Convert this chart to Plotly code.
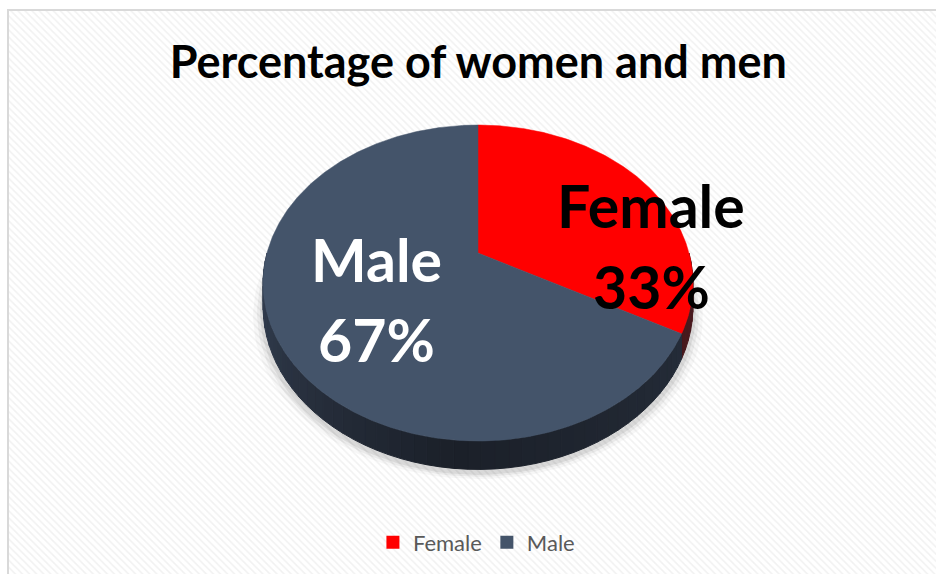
import math
import plotly.graph_objects as go

# ---- data ----
categories = ["Female", "Male"]
values = [33, 67]
colors_top = ["#FF0000", "#44546A"]
title_text = "Percentage of women and men"

# ---- geometry / style constants (pixel space) ----
W, H = 936, 574
CX, CY = 478, 253          # projected centre of the pie top
A, B, P = 211, 152.3, 0.19  # horizontal / vertical radii, perspective factor
DEPTH = 23                  # thickness of the pie

def proj(theta_deg, r=1.0, dz=0.0):
    t = math.radians(theta_deg)
    u, v = r * math.sin(t), r * math.cos(t)
    w = 1 + P * v
    return CX + A * u / w, CY - B * v / w + dz / w

def lerp_col(c1, c2, f):
    f = max(0.0, min(1.0, f))
    a = [int(c1[i:i + 2], 16) for i in (1, 3, 5)]
    b = [int(c2[i:i + 2], 16) for i in (1, 3, 5)]
    return "#%02x%02x%02x" % tuple(round(a[k] + (b[k] - a[k]) * f) for k in range(3))

fig = go.Figure()

# hatched background
fig.add_trace(go.Scatter(
    x=[9, 936, 936, 9, 9], y=[11, 11, 574, 574, 11], mode="lines", fill="toself",
    line=dict(width=0), fillcolor="white",
    fillpattern=dict(shape="\\", fgcolor="#e3e3e3", bgcolor="white", size=5, solidity=0.3),
    hoverinfo="skip", showlegend=False))

# soft shadow under the pie
for k, alpha in [(10, 0.03), (6, 0.05), (3, 0.07)]:
    xs, ys = [], []
    for i in range(0, 361, 3):
        x, y = proj(i, 1.0, DEPTH + 3)
        xs.append(CX + (x - CX) * (1 + k / 215)); ys.append(y + k * 0.6)
    fig.add_trace(go.Scatter(x=xs, y=ys, mode="lines", fill="toself",
                             line=dict(width=0), fillcolor=f"rgba(0,0,0,{alpha})",
                             hoverinfo="skip", showlegend=False))

# slices angles
total = sum(values)
starts, ends = [], []
acc = 0.0
for v in values:
    starts.append(acc / total * 360)
    acc += v
    ends.append(acc / total * 360)

# sides (drawn first, tops cover hidden parts)
side_dark = {"Female": ("#3a1418", "#4a1a1e", "#4a1a1e"),
             "Male": ("#1b2029", "#262e3b", "#323d4f")}
for cat, s, e in zip(categories, starts, ends):
    a0, a1 = max(s, 90), min(e, 270)
    if a1 <= a0:
        continue
    n = max(2, int((a1 - a0) / 3))
    dark, right, left = side_dark[cat]
    for j in range(n):
        t0 = a0 + (a1 - a0) * j / n
        t1 = a0 + (a1 - a0) * (j + 1) / n
        tm = (t0 + t1) / 2
        col = lerp_col(dark, left, (tm - 185) / 75) if tm > 185 else lerp_col(dark, right, (185 - tm) / 80)
        pts_top = [proj(t0 + (t1 - t0) * q / 4) for q in range(5)]
        pts_bot = [proj(t1 - (t1 - t0) * q / 4, 1.0, DEPTH) for q in range(5)]
        pts = pts_top + pts_bot + [pts_top[0]]
        fig.add_trace(go.Scatter(x=[p[0] for p in pts], y=[p[1] for p in pts], mode="lines",
                                 fill="toself", fillcolor=col, line=dict(color=col, width=1),
                                 hoverinfo="skip", showlegend=False))

# top surfaces
for cat, s, e, col in zip(categories, starts, ends, colors_top):
    n = max(2, int((e - s) / 0.5))
    pts = [(CX, CY)] + [proj(s + (e - s) * j / n) for j in range(n + 1)] + [(CX, CY)]
    fig.add_trace(go.Scatter(x=[p[0] for p in pts], y=[p[1] for p in pts], mode="lines",
                             fill="toself", fillcolor=col, line=dict(color=col, width=0.5),
                             name=cat, hoverinfo="name", showlegend=False))

# legend entries
for cat, col in zip(categories, colors_top):
    fig.add_trace(go.Scatter(x=[None], y=[None], mode="markers", name=cat,
                             marker=dict(symbol="square", size=13, color=col)))

# data labels
label_pos = {"Female": (651, 205, 286, "black"), "Male": (376, 259, 339, "white")}
pct = [round(v / total * 100) for v in values]
for cat, p in zip(categories, pct):
    x, y1, y2, fc = label_pos[cat]
    for txt, yy in [(cat, y1), (f"{p}%", y2)]:
        fig.add_annotation(x=x, y=yy, text=f"<b>{txt}</b>", showarrow=False,
                           xanchor="center", yanchor="middle",
                           font=dict(family="Lato", size=59, color=fc))

# chart border
fig.add_shape(type="rect", x0=8, y0=10, x1=945, y1=590, line=dict(color="#d9d9d9", width=2),
              fillcolor="rgba(0,0,0,0)", layer="above")

fig.update_layout(
    width=W, height=H, margin=dict(l=0, r=0, t=0, b=0),
    paper_bgcolor="white", plot_bgcolor="white",
    title=dict(text=f"<b>{title_text}</b>", x=0.511, xanchor="center", y=0.892, yanchor="middle",
               font=dict(family="Lato", size=45, color="black")),
    xaxis=dict(range=[0, W], visible=False, fixedrange=True),
    yaxis=dict(range=[H, 0], visible=False, fixedrange=True),
    legend=dict(orientation="h", x=0.509, xanchor="center", y=0.055, yanchor="middle",
                font=dict(family="Lato", size=22, color="#595959"), bgcolor="rgba(0,0,0,0)",
                itemwidth=30, tracegroupgap=0),
    showlegend=True,
)

fig.write_html("out.html")
